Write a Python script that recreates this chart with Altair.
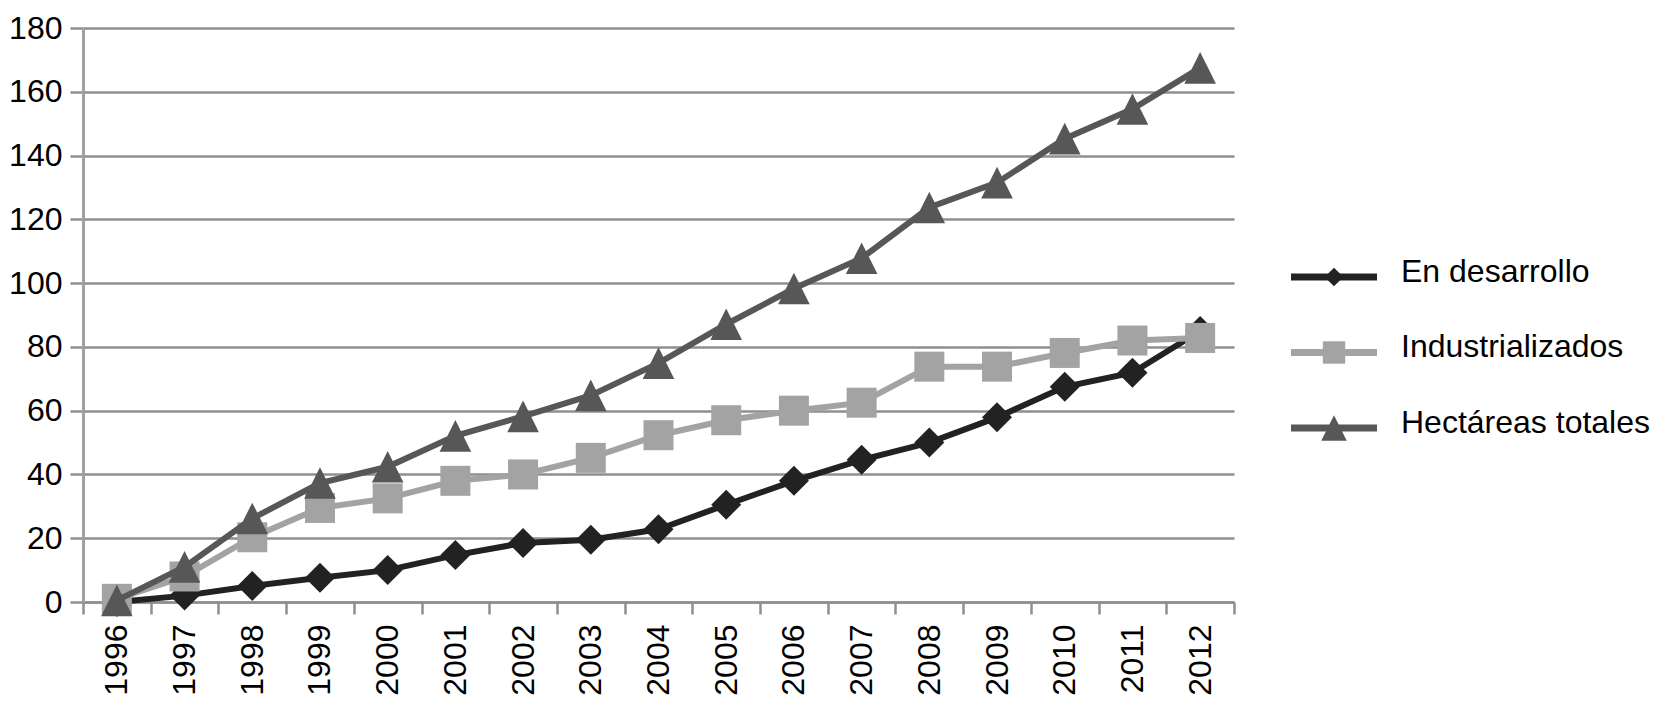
import altair as alt
import pandas as pd

# ---- data ----
anios = ["1996", "1997", "1998", "1999", "2000", "2001", "2002", "2003", "2004",
         "2005", "2006", "2007", "2008", "2009", "2010", "2011", "2012"]
series = ["En desarrollo", "Industrializados", "Hectáreas totales"]
en_desarrollo = [0, 2, 5, 7.6, 10, 14.7, 18.5, 19.5, 22.8, 30.5, 38, 44.6, 50, 57.9, 67.5, 71.9, 85]
industrializados = [1, 8, 20.3, 29.5, 32.5, 38, 40, 45.2, 52.3, 57, 60, 62.5, 73.8, 73.8, 78.1, 82, 82.8]
hectareas_totales = [0.5, 11, 26.2, 37.3, 42.4, 52.1, 58.2, 64.8, 74.9, 87.1, 98.3, 107.8, 123.7, 131.5, 145.3, 154.6, 167.5]
ticks_y = [0, 20, 40, 60, 80, 100, 120, 140, 160, 180]
orden_leyenda = [0, 1, 2]

# ---- styles ----
colores = ["#222222", "#a3a3a3", "#575757"]
TRI = "M0,-1L1,1L-1,1Z"
formas = ["diamond", "square", TRI]
tamanos = [900, 900, 1000]
tamanos_leyenda = [350, 650, 480]
FONT = "Liberation Sans"
W, H = 1151, 574

rows = []
for s, vals in zip(series, [en_desarrollo, industrializados, hectareas_totales]):
    for a, v in zip(anios, vals):
        rows.append({"anio": a, "valor": v, "serie": s})
df = pd.DataFrame(rows)

x_enc = alt.X(
    "anio:O",
    scale=alt.Scale(type="band", paddingInner=0, paddingOuter=0),
    bandPosition=0.5,
    axis=alt.Axis(title=None, labelAngle=-90, tickBand="extent", grid=False,
                  tickSize=12, labelPadding=10, domainColor="#8f8f8f", domainWidth=2.5),
)
y_enc = alt.Y(
    "valor:Q",
    scale=alt.Scale(domain=[0, 180], nice=False, zero=True),
    axis=alt.Axis(title=None, values=ticks_y, tickSize=13, labelPadding=8,
                  domainColor="#a0a0a0", domainWidth=3),
)

capas = []
for s, c, f, t in zip(series, colores, formas, tamanos):
    capas.append(
        alt.Chart(df)
        .transform_filter(alt.datum.serie == s)
        .mark_line(color=c, strokeWidth=6,
                   point=alt.OverlayMarkDef(shape=f, size=t, filled=True, color=c, opacity=1))
        .encode(x=x_enc, y=y_enc)
    )
main = alt.layer(*capas).properties(width=W, height=H)

# ---- legend panel ----
df_leg = pd.DataFrame({"serie": series, "orden": orden_leyenda})
y_leg = alt.Y("orden:Q", scale=alt.Scale(domain=[-3.298, 4.305], reverse=True, nice=False, zero=False), axis=None)
color_leg = alt.Color("serie:N", scale=alt.Scale(domain=series, range=colores), legend=None)
shape_leg = alt.Shape("serie:N", scale=alt.Scale(domain=series, range=formas), legend=None)
size_leg = alt.Size("serie:N", scale=alt.Scale(domain=series, range=tamanos_leyenda), legend=None)

regla = alt.Chart(df_leg).mark_rule(strokeWidth=7).encode(
    x=alt.value(0), x2=alt.value(86), y=y_leg, color=color_leg)
punto = alt.Chart(df_leg).mark_point(filled=True, opacity=1).encode(
    x=alt.value(43), y=y_leg, color=color_leg, shape=shape_leg, size=size_leg)
texto = alt.Chart(df_leg).mark_text(align="left", baseline="alphabetic", dy=5,
                                     fontSize=32, font=FONT, color="black").encode(
    x=alt.value(110), y=y_leg, text="serie:N")
leyenda = alt.layer(regla, punto, texto).properties(width=360, height=H)

chart = (
    alt.hconcat(main, leyenda, spacing=51)
    .properties(padding={"top": 4, "left": 0, "right": 0, "bottom": 0})
    .configure_view(stroke=None)
    .configure_axis(labelFont=FONT, labelFontSize=32, labelColor="black",
                    gridColor="#8f8f8f", gridWidth=2.5,
                    tickColor="#8f8f8f", tickWidth=2.5)
)

chart.save("out.html", embed_options={"renderer": "svg", "actions": False})
